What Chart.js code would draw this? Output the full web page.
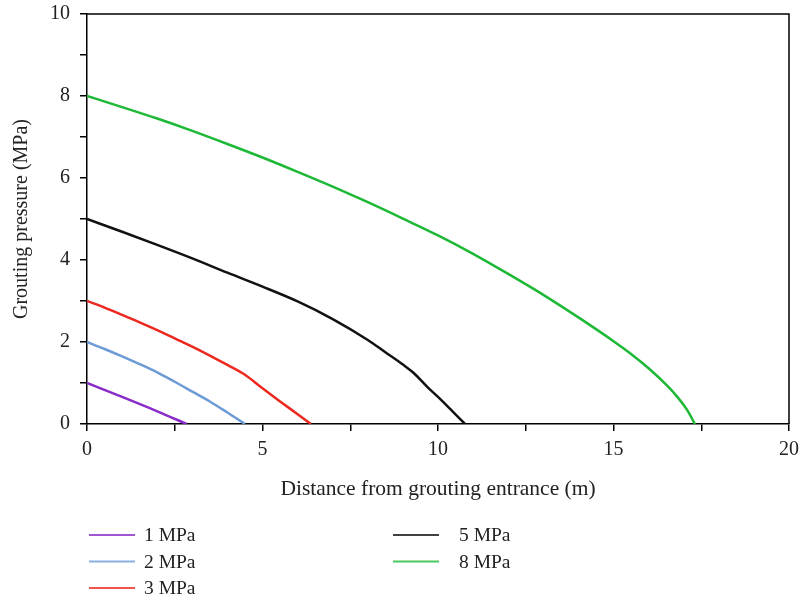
<!DOCTYPE html>
<html>
<head>
<meta charset="utf-8">
<script src="https://cdn.jsdelivr.net/npm/chart.js@4.4.1/dist/chart.umd.min.js"></script>
<style>
  html, body { margin: 0; padding: 0; background: #fff; }
  #wrap { width: 800px; height: 604px; }
</style>
</head>
<body>
<div id="wrap"><canvas id="chart" width="800" height="604"></canvas></div>
<script>
// Series: distance (m) and grouting pressure (MPa)
const seriesLabels = ['1 MPa', '2 MPa', '3 MPa', '5 MPa', '8 MPa'];

const dist1 = [0, 1, 2, 2.84];
const pres1 = [1, 0.66, 0.31, 0];

const dist2 = [0, 0.5, 1, 1.5, 2, 2.5, 3, 3.5, 4, 4.5];
const pres2 = [2, 1.83, 1.65, 1.46, 1.26, 1.03, 0.79, 0.55, 0.28, 0];

const dist3 = [0, 0.5, 1, 1.5, 2, 2.5, 3, 3.5, 4, 4.5, 5, 5.5, 6, 6.38];
const pres3 = [3, 2.84, 2.66, 2.48, 2.29, 2.09, 1.89, 1.67, 1.44, 1.2, 0.87, 0.55, 0.24, 0];

const dist5 = [0, 1, 2, 3, 4, 5, 6, 7, 8, 8.5, 9, 9.3, 9.7, 10, 10.4, 10.77];
const pres5 = [5, 4.69, 4.37, 4.04, 3.69, 3.35, 2.99, 2.56, 2.05, 1.75, 1.45, 1.25, 0.9, 0.66, 0.32, 0];

const dist8 = [0, 1, 2, 3, 4, 5, 6, 7, 8, 9, 10, 11, 12, 13, 14, 15, 15.5, 16, 16.5, 16.8, 17.1, 17.32];
const pres8 = [8, 7.73, 7.45, 7.15, 6.83, 6.5, 6.15, 5.79, 5.41, 5.01, 4.6, 4.15, 3.66, 3.15, 2.6, 2.02, 1.71, 1.36, 0.96, 0.68, 0.34, 0];

const xTicks = [0, 5, 10, 15, 20];
const yTicks = [0, 2, 4, 6, 8, 10];

const colors = ['#8a2bc8', '#6c9bd6', '#ec281f', '#111111', '#1db936'];
const FONT = '"Liberation Serif", "Times New Roman", serif';

const toPoints = (xs, ys) => xs.map((x, i) => ({ x: x, y: ys[i] }));
const allDist = [dist1, dist2, dist3, dist5, dist8];
const allPres = [pres1, pres2, pres3, pres5, pres8];

const datasets = seriesLabels.map((label, i) => ({
    label: label,
    data: toPoints(allDist[i], allPres[i]),
    borderColor: colors[i],
    backgroundColor: colors[i],
    borderWidth: 2.5,
    pointRadius: 0,
    cubicInterpolationMode: 'monotone'
}));

// frame around the plot (top and right border) + two-column legend below
const framePlugin = {
    id: 'frame',
    afterDraw(chart) {
        const { ctx, chartArea: a } = chart;
        ctx.save();
        ctx.strokeStyle = '#000';
        ctx.lineWidth = 1.5;
        ctx.beginPath();
        ctx.moveTo(a.left, a.top);
        ctx.lineTo(a.right, a.top);
        ctx.lineTo(a.right, a.bottom);
        ctx.stroke();

        // legend
        ctx.font = '19.5px ' + FONT;
        ctx.textBaseline = 'middle';
        ctx.fillStyle = '#222';
        chart.data.datasets.forEach((ds, i) => {
            const col = i < 3 ? 0 : 1;
            const row = i < 3 ? i : i - 3;
            const x0 = col === 0 ? 89 : 393;
            const y0 = 535 + row * 26.5;
            ctx.strokeStyle = ds.borderColor;
            ctx.globalAlpha = 0.8;
            ctx.lineWidth = 2;
            ctx.beginPath();
            ctx.moveTo(x0, y0);
            ctx.lineTo(x0 + 46, y0);
            ctx.stroke();
            ctx.globalAlpha = 1;
            ctx.fillText(ds.label, x0 + (col === 0 ? 55 : 66), y0 + 1);
        });
        ctx.restore();
    }
};

new Chart(document.getElementById('chart').getContext('2d'), {
    type: 'line',
    data: { datasets: datasets },
    options: {
        responsive: false,
        animation: false,
        layout: { padding: { top: 14, right: 11, bottom: 100, left: 0 } },
        plugins: {
            legend: { display: false },
            tooltip: { enabled: false }
        },
        scales: {
            x: {
                type: 'linear',
                min: 0,
                max: 20,
                afterFit(scale) {
                    scale.height = 80;
                    scale.paddingLeft = 0;
                    scale.paddingRight = 0;
                },
                border: { display: true, color: '#000', width: 1.5 },
                grid: { drawOnChartArea: false, drawTicks: true, tickLength: 7, color: '#000', lineWidth: 1.5 },
                ticks: {
                    stepSize: 2.5,
                    padding: 7,
                    color: '#222',
                    font: { family: FONT, size: 20 },
                    maxRotation: 0,
                    autoSkip: false,
                    callback: (v) => xTicks.includes(v) ? String(v) : ''
                },
                title: {
                    display: true,
                    text: 'Distance from grouting entrance (m)',
                    color: '#222',
                    font: { family: FONT, size: 21.5 },
                    padding: { top: 20, bottom: 2 }
                }
            },
            y: {
                min: 0,
                max: 10,
                afterFit(scale) {
                    scale.width = 87;
                    scale.paddingTop = 0;
                    scale.paddingBottom = 0;
                },
                border: { display: true, color: '#000', width: 1.5 },
                grid: { drawOnChartArea: false, drawTicks: true, tickLength: 7, color: '#000', lineWidth: 1.5 },
                ticks: {
                    stepSize: 1,
                    padding: 10,
                    color: '#222',
                    font: { family: FONT, size: 20 },
                    autoSkip: false,
                    callback: (v) => yTicks.includes(v) ? String(v) : ''
                },
                title: {
                    display: true,
                    text: 'Grouting pressure (MPa)',
                    color: '#222',
                    font: { family: FONT, size: 20 },
                    padding: { top: 10, bottom: 0 }
                }
            }
        }
    },
    plugins: [framePlugin]
});
</script>
</body>
</html>
